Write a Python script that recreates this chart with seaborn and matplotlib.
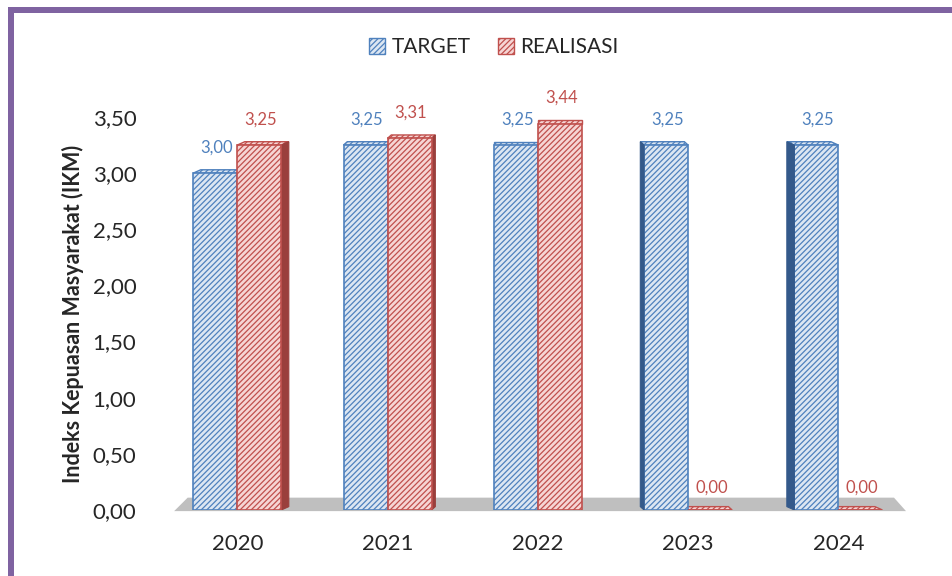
import numpy as np
import pandas as pd
import seaborn as sns
import matplotlib.pyplot as plt
from matplotlib.patches import Polygon, Patch, Rectangle

years = ['2020', '2021', '2022', '2023', '2024']
target = [3.00, 3.25, 3.25, 3.25, 3.25]
realisasi = [3.25, 3.31, 3.44, 0.00, 0.00]
series_names = ['TARGET', 'REALISASI']

df = pd.DataFrame({
    'Tahun': years * 2,
    'Nilai': target + realisasi,
    'Seri': [series_names[0]] * len(years) + [series_names[1]] * len(years),
})

blue_edge, blue_fill, blue_dark = '#4F81BD', '#DCE6F2', '#34598A'
red_edge, red_fill, red_dark = '#C0504D', '#F6D5D4', '#9A3F3C'
purple = '#7F63A1'

sns.set_theme(style='white')
plt.rcParams['font.family'] = ['Lato', 'DejaVu Sans']
plt.rcParams['hatch.linewidth'] = 0.9

fig = plt.figure(figsize=(9.53, 5.76), dpi=100)
ax = fig.add_axes([0.178, 1 - 510 / 576, 0.957 - 0.178, (510 - 117) / 576])

sns.barplot(data=df, x='Tahun', y='Nilai', hue='Seri', width=0.586,
            palette=[blue_fill, red_fill], saturation=1, ax=ax, legend=False)

ax.set_xlim(-0.45, 4.49)
ax.set_ylim(0, 3.5)

# floor slab
floor = Polygon([(-0.42, -0.01), (4.45, -0.01), (4.37, 0.11), (-0.33, 0.11)],
                closed=True, facecolor='#BFBFBF', edgecolor='none', zorder=0.5,
                clip_on=False)
ax.add_patch(floor)

bars = list(ax.patches)[:2 * len(years)]
for k, bar in enumerate(bars):
    s = k // len(years)
    i = k % len(years)
    edge = blue_edge if s == 0 else red_edge
    dark = blue_dark if s == 0 else red_dark
    fill = blue_fill if s == 0 else red_fill
    bar.set_facecolor(fill)
    bar.set_edgecolor(edge)
    bar.set_hatch('//////')
    bar.set_linewidth(1.2)
    bar.set_zorder(3)
    x, w, h = bar.get_x(), bar.get_width(), bar.get_height()
    dx = (2 - i) * 0.025
    dy = 0.03
    # top face
    top = Polygon([(x, h), (x + w, h), (x + w + dx, h + dy), (x + dx, h + dy)],
                  closed=True, facecolor=fill, edgecolor=edge, lw=1.0,
                  hatch='//////', zorder=2.8)
    ax.add_patch(top)
    # side face
    sx = x + w if dx > 0 else x
    if dx != 0 and h > 0:
        side = Polygon([(sx, 0), (sx, h), (sx + dx, h + dy), (sx + dx, dy)],
                       closed=True, facecolor=dark, edgecolor=dark, lw=0.8,
                       zorder=2.9 if dx > 0 else 3.1)
        ax.add_patch(side)
    # value label
    lab = f'{h:.2f}'.replace('.', ',')
    ax.text(x + w / 2 + 0.01, h + 0.23 if h > 0 else 0.2, lab, ha='center',
            va='center', fontsize=12, color=edge, zorder=5)

ax.set_yticks(np.arange(0, 3.51, 0.5))
ax.set_yticklabels([f'{v:.2f}'.replace('.', ',') for v in np.arange(0, 3.51, 0.5)],
                   fontsize=16)
ax.tick_params(axis='x', labelsize=16, pad=17, length=0)
ax.tick_params(axis='y', pad=24, length=0)
ax.set_xlabel('')
ax.set_ylabel('Indeks Kepuasan Masyarakat (IKM)', fontsize=15.5, fontweight='bold',
              labelpad=6)
for sp in ax.spines.values():
    sp.set_visible(False)

handles = [Patch(facecolor=blue_fill, edgecolor=blue_edge, hatch='//////'),
           Patch(facecolor=red_fill, edgecolor=red_edge, hatch='//////')]
fig.legend(handles, series_names, loc='center', bbox_to_anchor=(0.518, 1 - 47 / 576),
           ncol=2, frameon=False, fontsize=15, handlelength=0.8, handleheight=0.8,
           handletextpad=0.3, columnspacing=1.3)

# purple frame (top and left)
fig.add_artist(Rectangle((8 / 953, 0), 6 / 953, 1 - 7 / 576, transform=fig.transFigure,
                         facecolor=purple, edgecolor='none'))
fig.add_artist(Rectangle((8 / 953, 1 - 13 / 576), 1, 6 / 576, transform=fig.transFigure,
                         facecolor=purple, edgecolor='none'))

fig.savefig('out.png', dpi=100)
